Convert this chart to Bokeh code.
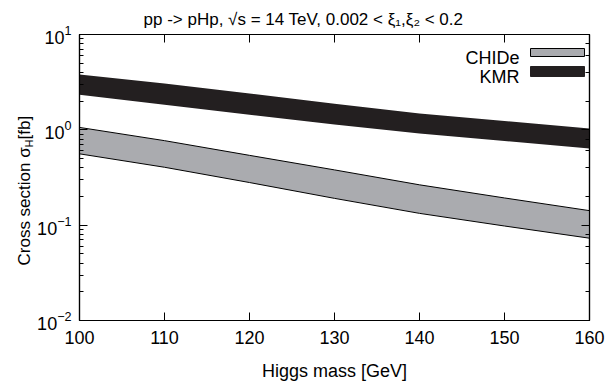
import math
from bokeh.plotting import figure
from bokeh.layouts import row
from bokeh.models import (LogAxis, LinearAxis, Label, BoxAnnotation, FixedTicker, Range1d,
                          CustomJSTickFormatter)
from bokeh.embed import file_html
from bokeh.resources import INLINE

# ---- data ----
higgs_mass = [100, 110, 120, 130, 140, 150, 160]
chide_hi = [1.06, 0.77, 0.54, 0.38, 0.265, 0.193, 0.142]
chide_lo = [0.56, 0.405, 0.28, 0.191, 0.133, 0.098, 0.073]
kmr_hi = [3.80, 3.07, 2.41, 1.88, 1.48, 1.24, 1.03]
kmr_lo = [2.33, 1.83, 1.44, 1.14, 0.915, 0.763, 0.636]
x_ticks = [100, 110, 120, 130, 140, 150, 160]
legend_labels = ["CHIDe", "KMR"]

FONT = "Liberation Sans"
FS = "18px"
GRAY = "#aaabaf"
BLACK = "#231f20"
LEFT_W = 34

p = figure(width=616 - LEFT_W, height=385, y_axis_type="log",
           x_range=Range1d(100, 160), y_range=Range1d(0.01, 10),
           output_backend="svg", toolbar_location=None,
           min_border_left=73 - LEFT_W, min_border_right=27,
           min_border_top=34, min_border_bottom=65)
p.grid.visible = False
p.outline_line_color = "black"
p.outline_line_width = 1.2
p.background_fill_color = "white"
p.border_fill_color = "white"

p.title.text = "pp -> pHp, \u221as = 14 TeV,  0.002 < \u03be\u2081,\u03be\u2082 < 0.2"
p.title.text_font = FONT
p.title.text_font_size = "17px"
p.title.text_font_style = "normal"
p.title.text_color = "black"
p.title.align = "left"
p.title.offset = 64
p.title.standoff = 11

# bands
p.varea(x=higgs_mass, y1=chide_lo, y2=chide_hi, fill_color=GRAY)
p.line(higgs_mass, chide_hi, line_color="black", line_width=1)
p.line(higgs_mass, chide_lo, line_color="black", line_width=1)
p.varea(x=higgs_mass, y1=kmr_lo, y2=kmr_hi, fill_color=BLACK)

def style_axis(ax, labels=True):
    ax.axis_line_color = "black"
    ax.axis_line_width = 1.2
    ax.major_tick_in = 8
    ax.major_tick_out = 0
    ax.minor_tick_in = 4
    ax.minor_tick_out = 0
    ax.major_tick_line_color = "black"
    ax.minor_tick_line_color = "black"
    ax.major_label_text_font = FONT
    ax.major_label_text_font_size = FS
    ax.major_label_text_color = "black"
    ax.major_label_standoff = 10
    if not labels:
        ax.formatter = CustomJSTickFormatter(code="return ''")
        ax.major_label_text_font_size = "1px"
        ax.major_label_standoff = 0

xa = p.xaxis[0]
style_axis(xa)
xa.ticker = FixedTicker(ticks=x_ticks)
xa.axis_label = "Higgs mass [GeV]"
xa.axis_label_text_font = FONT
xa.axis_label_text_font_size = FS
xa.axis_label_text_font_style = "normal"
xa.axis_label_text_color = "black"
xa.axis_label_standoff = 14

ya = p.yaxis[0]
style_axis(ya)
ya.major_label_standoff = 8

top = LinearAxis(ticker=FixedTicker(ticks=x_ticks))
style_axis(top, labels=False)
p.add_layout(top, "above")
right = LogAxis()
style_axis(right, labels=False)
p.add_layout(right, "right")

# legend (label left, swatch right)
p.add_layout(Label(x=440, y=263, x_units="screen", y_units="screen",
                   text=legend_labels[0], text_font=FONT, text_font_size=FS,
                   text_color="black", text_align="right", text_baseline="alphabetic"))
p.add_layout(Label(x=440, y=244, x_units="screen", y_units="screen",
                   text=legend_labels[1], text_font=FONT, text_font_size=FS,
                   text_color="black", text_align="right", text_baseline="alphabetic"))
p.add_layout(BoxAnnotation(left=451, right=505, bottom=264, top=272,
                           left_units="screen", right_units="screen",
                           bottom_units="screen", top_units="screen",
                           fill_color=GRAY, fill_alpha=1, line_color="black", line_width=1,
                           line_alpha=1))
p.add_layout(BoxAnnotation(left=451, right=505, bottom=244, top=254,
                           left_units="screen", right_units="screen",
                           bottom_units="screen", top_units="screen",
                           fill_color=BLACK, fill_alpha=1, line_color=BLACK, line_width=1,
                           line_alpha=1))

# narrow panel holding the rotated y-axis label (with subscript H)
lp = figure(width=LEFT_W, height=385, output_backend="svg", toolbar_location=None,
            x_range=Range1d(0, 1), y_range=Range1d(0, 1),
            min_border=0, min_border_left=0, min_border_right=0,
            min_border_top=0, min_border_bottom=0)
lp.axis.visible = False
lp.grid.visible = False
lp.outline_line_color = None
lp.background_fill_color = "white"
lp.border_fill_color = "white"
YL = "17px"
lp.add_layout(Label(x=24, y=55, x_units="screen", y_units="screen", angle=math.pi / 2,
                    text="Cross section \u03c3", text_font=FONT, text_font_size=YL,
                    text_color="black", text_baseline="alphabetic", text_align="left"))
lp.add_layout(Label(x=28, y=173, x_units="screen", y_units="screen", angle=math.pi / 2,
                    text="H", text_font=FONT, text_font_size="11px",
                    text_color="black", text_baseline="alphabetic", text_align="left"))
lp.add_layout(Label(x=24, y=181, x_units="screen", y_units="screen", angle=math.pi / 2,
                    text=" [fb]", text_font=FONT, text_font_size=YL,
                    text_color="black", text_baseline="alphabetic", text_align="left"))

layout = row(lp, p, spacing=0)
open("out.html", "w").write(file_html(layout, INLINE))
